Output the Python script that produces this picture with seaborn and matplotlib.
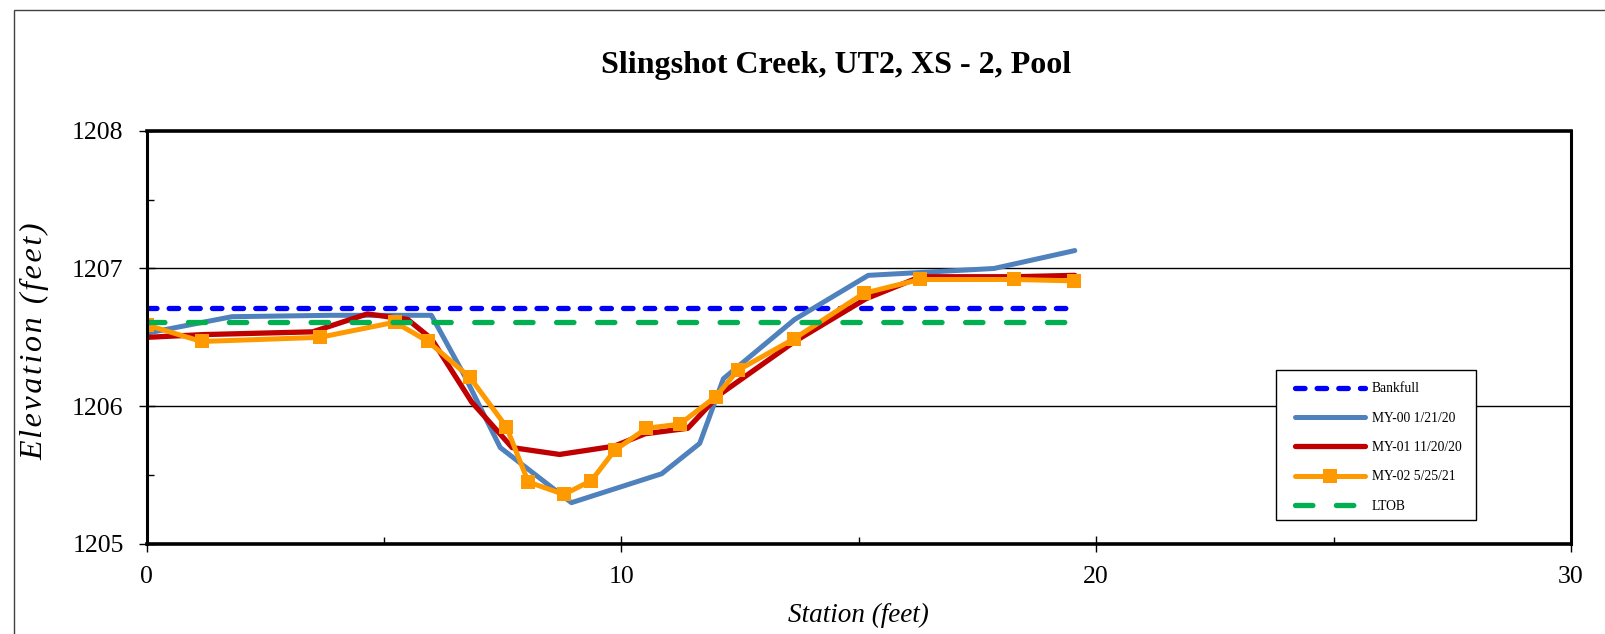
import matplotlib
matplotlib.use("Agg")
import matplotlib.pyplot as plt
import seaborn as sns
from matplotlib.patches import Rectangle
from matplotlib.ticker import MultipleLocator

sns.set_theme(style="white")
plt.rcParams["font.family"] = ["Liberation Serif", "DejaVu Serif"]
plt.rcParams["text.color"] = "black"
plt.rcParams["axes.labelcolor"] = "black"

# ------------------ Survey data ------------------
bankfull_x = [0, 19.55]
bankfull_y = [1206.71, 1206.71]

ltob_x = [0, 19.55]
ltob_y = [1206.61, 1206.61]

my00_station = [0, 1.8, 3.9, 6.0, 6.7, 7.45, 8.95, 10.85, 11.65, 12.15, 13.65, 15.2, 17.85, 19.55]
my00_elev = [1206.53, 1206.65, 1206.66, 1206.66, 1206.22, 1205.70, 1205.30, 1205.51, 1205.73,
             1206.20, 1206.63, 1206.95, 1207.00, 1207.13]

my01_station = [0, 1.2, 3.5, 4.65, 5.5, 6.0, 6.85, 7.7, 8.7, 9.85, 10.5, 11.4, 12.05, 13.65,
                15.15, 16.3, 18.3, 19.55]
my01_elev = [1206.50, 1206.52, 1206.54, 1206.67, 1206.63, 1206.49, 1206.03, 1205.70, 1205.65,
             1205.71, 1205.80, 1205.84, 1206.08, 1206.47, 1206.78, 1206.94, 1206.94, 1206.95]

my02_station = [0, 1.16, 3.65, 5.23, 5.93, 6.81, 7.58, 8.04, 8.79, 9.37, 9.86, 10.53, 11.23,
                11.99, 12.45, 13.64, 15.11, 16.28, 18.28, 19.53]
my02_elev = [1206.59, 1206.47, 1206.50, 1206.61, 1206.47, 1206.21, 1205.85, 1205.45, 1205.36,
             1205.46, 1205.68, 1205.84, 1205.87, 1206.07, 1206.26, 1206.49, 1206.82, 1206.92,
             1206.92, 1206.91]

series_labels = ["Bankfull", "MY-00 1/21/20", "MY-01 11/20/20", "MY-02 5/25/21", "LTOB"]

# ------------------ Figure ------------------
fig = plt.figure(figsize=(16.05, 6.34), dpi=100)
ax = fig.add_axes([146.5 / 1605, 90 / 634, 1424.5 / 1605, 413.3 / 634])

sns.lineplot(x=bankfull_x, y=bankfull_y, ax=ax, color="#0000FF", lw=3.8, sort=False,
             label=series_labels[0], dash_capstyle="round")
sns.lineplot(x=my00_station, y=my00_elev, ax=ax, color="#4F81BD", lw=3.6, sort=False,
             label=series_labels[1])
sns.lineplot(x=my01_station, y=my01_elev, ax=ax, color="#C00000", lw=3.8, sort=False,
             label=series_labels[2])
sns.lineplot(x=my02_station, y=my02_elev, ax=ax, color="#FF9900", lw=3.6, sort=False,
             marker="s", markersize=9.5, markeredgewidth=0, label=series_labels[3])
sns.lineplot(x=ltob_x, y=ltob_y, ax=ax, color="#00B050", lw=3.8, sort=False,
             label=series_labels[4], dash_capstyle="round")

lines = ax.get_lines()
lines[0].set_dashes((1.8, 2.3))
lines[4].set_dashes((3.3, 4.45))
for ln in lines:
    ln.set_solid_capstyle("round")

ax.set_xlim(0, 30)
ax.set_ylim(1205, 1208)
ax.xaxis.set_major_locator(MultipleLocator(10))
ax.xaxis.set_minor_locator(MultipleLocator(5))
ax.yaxis.set_major_locator(MultipleLocator(1))
ax.yaxis.set_minor_locator(MultipleLocator(0.5))
ax.yaxis.set_major_formatter(matplotlib.ticker.FormatStrFormatter("%d"))

ax.grid(False)
for y in [1206, 1207]:
    ax.axhline(y, color="black", lw=1.0, zorder=1)

for side, w in [("top", 2.6), ("bottom", 2.6), ("left", 2.2), ("right", 2.2)]:
    ax.spines[side].set_color("black")
    ax.spines[side].set_linewidth(w)

ax.tick_params(axis="both", which="major", direction="inout", length=11, width=1,
               color="black", labelsize=18.5, labelcolor="black")
ax.tick_params(axis="x", which="major", pad=10)
ax.tick_params(axis="y", which="major", pad=11)
ax.tick_params(axis="both", which="minor", direction="in", length=5, width=1, color="black")
ax.tick_params(bottom=True, left=True, which="both")

ax.set_xlabel("Station (feet)", fontsize=19.5, style="italic", labelpad=11)
# the reference label is slightly letter-spaced, so hair spaces go between the letters
ylabel_text = "Elevation (feet)"
ax.set_ylabel("\u200a".join(ylabel_text), fontsize=23, style="italic")
ax.yaxis.set_label_coords(-0.0684, 0.49)

fig.text(836 / 1605, 1 - 65.5 / 634, "Slingshot Creek, UT2, XS - 2, Pool",
         ha="center", va="center", fontsize=23, fontweight="bold", color="black")

# legend box drawn separately, legend itself without frame
ax.add_patch(Rectangle((0.7926, 0.058), 0.1407, 0.3618, transform=ax.transAxes,
                       facecolor="white", edgecolor="black", lw=1.0, zorder=4.5))
leg = ax.legend(loc="upper left", bbox_to_anchor=(0.8059, 0.391), frameon=False,
                fontsize=9.8, borderpad=0, borderaxespad=0, labelspacing=1.2,
                handlelength=5.2, handletextpad=0.5, numpoints=1, labelcolor="black")
leg.set_zorder(5)

# outer chart border
fig.patches.append(Rectangle((14.3 / 1605, -0.1), 2, 1.1 - 10.2 / 634,
                             transform=fig.transFigure, fill=False, edgecolor="#404040",
                             lw=1.0))

fig.savefig("out.png", dpi=100)
